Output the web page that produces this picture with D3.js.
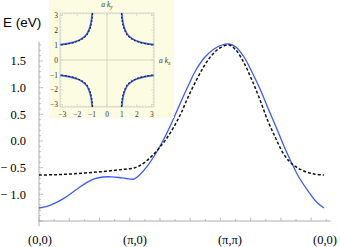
<!DOCTYPE html>
<html><head><meta charset="utf-8">
<script src="https://cdn.jsdelivr.net/npm/d3@7"></script>
<style>body{margin:0;background:#fff}svg{display:block}.serif{font-family:"Liberation Serif","Times New Roman","DejaVu Serif",serif}</style>
</head><body>
<script>
// ---- data ----
const PI = Math.PI;
const xLabelPos = [0, PI, 2*PI, 3*PI];
const xLabels = ["(0,0)", "(π,0)", "(π,π)", "(0,0)"];
const yTickValues = [1.5, 1.0, 0.5, 0.0, -0.5, -1.0];
const yTickLabels = ["1.5", "1.0", "0.5", "0.0", "− 0.5", "− 1.0"];
const bandBlue = [[0,-1.256],[0.265,-1.225],[0.529,-1.165],[0.794,-1.085],[1.058,-0.985],[1.323,-0.875],[1.587,-0.775],[1.852,-0.705],[2.116,-0.675],[2.381,-0.671],[2.646,-0.684],[2.877,-0.703],[3.142,-0.713],[3.34,-0.628],[3.60,-0.459],[3.87,-0.225],[4.13,0.038],[4.40,0.356],[4.66,0.694],[4.93,1.031],[5.19,1.331],[5.49,1.575],[5.79,1.725],[6.05,1.800],[6.283,1.819],[6.51,1.763],[6.78,1.575],[7.04,1.294],[7.31,0.975],[7.57,0.619],[7.84,0.263],[8.10,-0.094],[8.37,-0.431],[8.63,-0.713],[8.90,-0.938],[9.16,-1.134],[9.42,-1.256]];
const bandDashed = [[0,-0.638],[0.529,-0.632],[1.025,-0.619],[1.521,-0.600],[2.017,-0.578],[2.513,-0.549],[2.844,-0.529],[3.142,-0.506],[3.34,-0.459],[3.57,-0.366],[3.80,-0.244],[4.00,-0.113],[4.23,0.056],[4.46,0.263],[4.70,0.525],[4.93,0.825],[5.19,1.125],[5.46,1.406],[5.72,1.613],[5.98,1.744],[6.283,1.800],[6.51,1.706],[6.78,1.463],[7.04,1.144],[7.31,0.769],[7.57,0.375],[7.84,0.038],[8.07,-0.225],[8.30,-0.394],[8.53,-0.497],[8.80,-0.572],[9.09,-0.619],[9.42,-0.638]];
const insetTicks = [-3,-2,-1,0,1,2,3];
const fsBlue = [[1.0,3.14],[1.04,2.7],[1.12,2.3],[1.22,2.0],[1.35,1.75],[1.53,1.55],[1.75,1.4],[2.0,1.28],[2.5,1.13],[3.14,1.03]];
const fsDashed = [[0.96,3.14],[1.0,2.7],[1.08,2.3],[1.18,2.0],[1.3,1.74],[1.5,1.52],[1.75,1.36],[2.0,1.24],[2.5,1.1],[3.14,1.0]];
const quadrants = [[1,1],[-1,1],[1,-1],[-1,-1]];

// ---- layout ----
const W = 340, H = 247;
const svg = d3.select("body").append("svg").attr("width", W).attr("height", H);
const x = d3.scaleLinear().domain([0, 3*PI]).range([39, 324]);
const y = d3.scaleLinear().domain([0, 1.5]).range([141, 61]);
const axisColor = "#999";

// y axis
const yTop = 1.86, yBot = -1.6;
svg.append("line").attr("x1", x(0)).attr("x2", x(0)).attr("y1", y(yTop)).attr("y2", y(yBot))
  .attr("stroke", axisColor).attr("stroke-width", 0.8);
const yMinor = d3.range(-15, 19).map(d => d/10);
svg.selectAll(".ytk").data(yMinor).join("line")
  .attr("x1", x(0)).attr("x2", d => x(0) + (Math.abs(Math.round(d*10)) % 5 === 0 ? 4 : 2))
  .attr("y1", d => y(d)).attr("y2", d => y(d))
  .attr("stroke", axisColor).attr("stroke-width", 0.6);
svg.selectAll(".ylab").data(yTickValues).join("text")
  .attr("class", "serif")
  .attr("x", 26).attr("y", d => y(d)).attr("dy", "0.35em")
  .attr("text-anchor", "end").attr("font-size", 12.5)
  .text((d,i) => yTickLabels[i]);

// x axis
const xAxisE = -1.5;
svg.append("line").attr("x1", x(0)).attr("x2", x(9.65)).attr("y1", y(xAxisE)).attr("y2", y(xAxisE))
  .attr("stroke", axisColor).attr("stroke-width", 0.8);
const xMinor = d3.range(0, 20).map(d => d/2);
svg.selectAll(".xtk").data(xMinor).join("line")
  .attr("x1", d => x(d)).attr("x2", d => x(d))
  .attr("y1", y(xAxisE)).attr("y2", d => y(xAxisE) - (d % 1 === 0 ? 3.5 : 2))
  .attr("stroke", axisColor).attr("stroke-width", 0.6);
svg.selectAll(".xlab").data(xLabelPos).join("text")
  .attr("class", "serif")
  .attr("x", (d,i) => Math.min(x(d) + 1, W - 12)).attr("y", 240).attr("dy", "0.35em")
  .attr("text-anchor", "middle").attr("font-size", 12.5)
  .text((d,i) => xLabels[i]);

// axis title
svg.append("text").attr("x", 3).attr("y", 27)
  .style("font-family", "'Liberation Sans',Arial,sans-serif").attr("font-size", 13.5)
  .text("E (eV)");

// curves
const line = d3.line().x(d => x(d[0])).y(d => y(d[1])).curve(d3.curveCatmullRom.alpha(0.5));
svg.append("path").attr("d", line(bandBlue)).attr("fill", "none")
  .attr("stroke", "#3a5cf5").attr("stroke-width", 1.3);
svg.append("path").attr("d", line(bandDashed)).attr("fill", "none")
  .attr("stroke", "#111").attr("stroke-width", 1.5).attr("stroke-dasharray", "3,2");

// ---- inset ----
const ins = svg.append("g");
ins.append("rect").attr("x", 49).attr("y", 0).attr("width", 125).attr("height", 118).attr("fill", "#fcfce3");
const ix = d3.scaleLinear().domain([-3.15, 3.15]).range([60, 154]);
const iy = d3.scaleLinear().domain([-3.15, 3.15]).range([107, 13]);
const fc = "#bbb";
ins.append("rect").attr("x", ix(-3.15)).attr("y", iy(3.15))
  .attr("width", ix(3.15) - ix(-3.15)).attr("height", iy(-3.15) - iy(3.15))
  .attr("fill", "none").attr("stroke", fc).attr("stroke-width", 0.6);
ins.append("line").attr("x1", ix(0)).attr("x2", ix(0)).attr("y1", iy(3.15)).attr("y2", iy(-3.15))
  .attr("stroke", "#c8c8b0").attr("stroke-width", 0.7);
ins.append("line").attr("x1", ix(-3.15)).attr("x2", ix(3.15)).attr("y1", iy(0)).attr("y2", iy(0))
  .attr("stroke", "#c8c8b0").attr("stroke-width", 0.7);
const iMinor = d3.range(-15, 16).map(d => d/5);
const tl = d => (Math.abs(Math.round(d*5)) % 5 === 0 ? 3 : 1.5);
[["b", iy(-3.15), -1], ["t", iy(3.15), 1]].forEach(([k, yy, s]) => {
  ins.selectAll(".it" + k).data(iMinor).join("line")
    .attr("x1", d => ix(d)).attr("x2", d => ix(d))
    .attr("y1", yy).attr("y2", d => yy + s * tl(d))
    .attr("stroke", fc).attr("stroke-width", 0.5);
});
[["l", ix(-3.15), 1], ["r", ix(3.15), -1]].forEach(([k, xx, s]) => {
  ins.selectAll(".it" + k).data(iMinor).join("line")
    .attr("y1", d => iy(d)).attr("y2", d => iy(d))
    .attr("x1", xx).attr("x2", d => xx + s * tl(d))
    .attr("stroke", fc).attr("stroke-width", 0.5);
});
ins.selectAll(".ixl").data(insetTicks).join("text")
  .attr("class", "serif")
  .attr("x", d => ix(d)).attr("y", 114).attr("dy", "0.35em").attr("text-anchor", "middle")
  .attr("font-size", 7.5).attr("fill", "#333")
  .text(d => d < 0 ? "−" + (-d) : d);
ins.selectAll(".iyl").data(insetTicks).join("text")
  .attr("class", "serif")
  .attr("x", 58).attr("y", d => iy(d)).attr("dy", "0.35em").attr("text-anchor", "end")
  .attr("font-size", 7.5).attr("fill", "#333")
  .text(d => d < 0 ? "−" + (-d) : d);
const tky = ins.append("text").attr("class", "serif").attr("x", ix(0)).attr("y", 7).attr("text-anchor", "middle")
  .attr("font-size", 7.5).attr("font-style", "italic").attr("fill", "#333");
tky.append("tspan").text("a k");
tky.append("tspan").attr("font-size", 5.5).attr("dy", 1.5).text("y");
const tkx = ins.append("text").attr("class", "serif").attr("x", 159).attr("y", iy(0) + 3)
  .attr("font-size", 7.5).attr("font-style", "italic").attr("fill", "#333");
tkx.append("tspan").text("a k");
tkx.append("tspan").attr("font-size", 5.5).attr("dy", 1.5).text("x");

const iline = d3.line().x(d => ix(d[0])).y(d => iy(d[1])).curve(d3.curveCatmullRom.alpha(0.5));
quadrants.forEach(([sx, sy]) => {
  ins.append("path").attr("d", iline(fsBlue.map(p => [sx*p[0], sy*p[1]])))
    .attr("fill", "none").attr("stroke", "#3a5cf5").attr("stroke-width", 1.6);
  ins.append("path").attr("d", iline(fsDashed.map(p => [sx*p[0], sy*p[1]])))
    .attr("fill", "none").attr("stroke", "#222").attr("stroke-width", 1.1).attr("stroke-dasharray", "2,1.5");
});
</script>
</body></html>
